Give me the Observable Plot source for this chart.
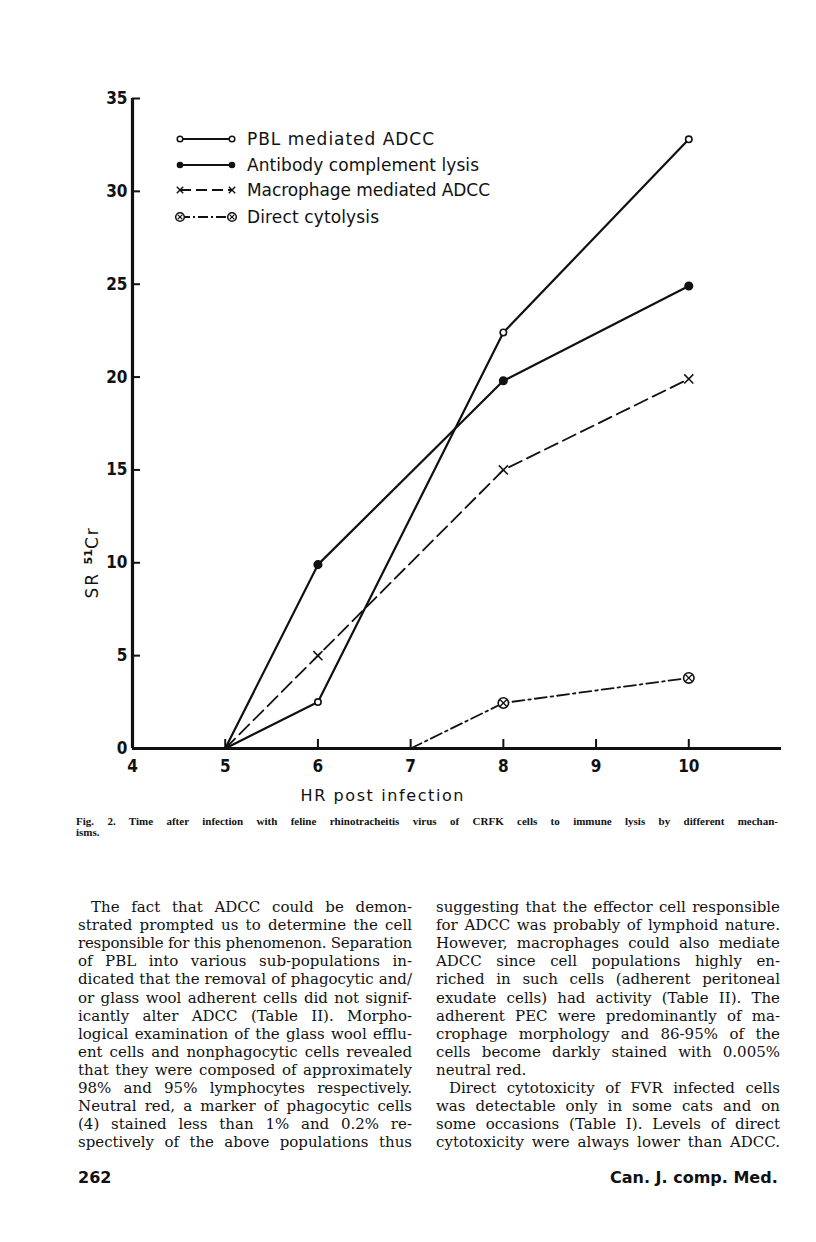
<!DOCTYPE html>
<html><head><meta charset="utf-8">
<script src="https://cdn.jsdelivr.net/npm/d3@7"></script>
<script src="https://cdn.jsdelivr.net/npm/@observablehq/plot@0.6"></script>
<style>
body{margin:0;background:#fff;}
#page{position:relative;width:816px;height:1242px;overflow:hidden;background:#fff;color:#111;}
#chart{position:absolute;left:0;top:0;}
#chart svg{overflow:visible;}
.abs{position:absolute;white-space:nowrap;}
.ylab{font-family:"DejaVu Sans",sans-serif;font-size:17px;letter-spacing:2px;transform:rotate(-90deg);transform-origin:center center;}
.xlab{font-family:"DejaVu Sans",sans-serif;font-size:16px;letter-spacing:1.6px;}
.cap{font-family:"Liberation Serif",serif;font-weight:bold;font-size:11px;line-height:10px;}
.body{font-family:"DejaVu Serif",serif;font-size:15px;}
.line{position:absolute;white-space:nowrap;text-align:justify;text-align-last:justify;}
.line.last{text-align-last:left;}
.foot{font-family:"DejaVu Sans",sans-serif;font-weight:bold;font-size:16px;}
</style></head><body><div id="page"><div id="chart"></div></div>
<script>
// ---- data ----
const xTickValues = [4, 5, 6, 7, 8, 9, 10];
const yTickValues = [0, 5, 10, 15, 20, 25, 30, 35];
const xDomain = [4, 11];
const yDomain = [0, 35];
const seriesNames = ["PBL mediated ADCC", "Antibody complement lysis", "Macrophage mediated ADCC", "Direct cytolysis"];
const pblHours = [5, 6, 8, 10];
const pblSR = [0, 2.5, 22.4, 32.8];
const abHours = [5, 6, 8, 10];
const abSR = [0, 9.9, 19.8, 24.9];
const macHours = [5, 6, 8, 10];
const macSR = [0, 5.0, 15.0, 19.9];
const dirHours = [7, 8, 10];
const dirSR = [0, 2.45, 3.8];
const xLabel = "HR post infection";
const caption1 = "Fig. 2. Time after infection with feline rhinotracheitis virus of CRFK cells to immune lysis by different mechan-";
const caption2 = "isms.";
const leftCol = [
 "The fact that ADCC could be demon-",
 "strated prompted us to determine the cell",
 "responsible for this phenomenon. Separation",
 "of PBL into various sub-populations in-",
 "dicated that the removal of phagocytic and/",
 "or glass wool adherent cells did not signif-",
 "icantly alter ADCC (Table II). Morpho-",
 "logical examination of the glass wool efflu-",
 "ent cells and nonphagocytic cells revealed",
 "that they were composed of approximately",
 "98% and 95% lymphocytes respectively.",
 "Neutral red, a marker of phagocytic cells",
 "(4) stained less than 1% and 0.2% re-",
 "spectively of the above populations thus"];
const rightCol = [
 "suggesting that the effector cell responsible",
 "for ADCC was probably of lymphoid nature.",
 "However, macrophages could also mediate",
 "ADCC since cell populations highly en-",
 "riched in such cells (adherent peritoneal",
 "exudate cells) had activity (Table II). The",
 "adherent PEC were predominantly of ma-",
 "crophage morphology and 86-95% of the",
 "cells become darkly stained with 0.005%",
 "neutral red.",
 "Direct cytotoxicity of FVR infected cells",
 "was detectable only in some cats and on",
 "some occasions (Table I). Levels of direct",
 "cytotoxicity were always lower than ADCC."];
const pageNo = "262";
const journal = "Can. J. comp. Med.";

// ---- build ----
const toRows = (xs, ys) => xs.map((x, i) => ({x, y: ys[i]}));
const pbl = toRows(pblHours, pblSR), ab = toRows(abHours, abSR), mac = toRows(macHours, macSR), dir = toRows(dirHours, dirSR);
const pos = d => d.y > 0;
const ink = "#111";

const W = 816, H = 810;
const mL = 132, mR = 35, mT = 98, mB = H - 748;
const frameW = W - mL - mR, frameH = H - mT - mB;
const tickFont = "'DejaVu Sans Condensed','Liberation Sans Narrow',sans-serif";
const chart = Plot.plot({
  width: W, height: H,
  marginLeft: mL, marginRight: mR, marginTop: mT, marginBottom: mB,
  x: {domain: xDomain},
  y: {domain: yDomain},
  style: {background: "transparent", color: ink},
  marks: [
    Plot.axisY({ticks: yTickValues, tickFormat: d => String(d), tickSize: 0, tickPadding: 5, label: null, fontSize: 17, fontWeight: "bold", fontFamily: tickFont}),
    Plot.axisX({ticks: xTickValues, tickFormat: d => String(d), tickSize: 0, tickPadding: 11, label: null, fontSize: 17, fontWeight: "bold", fontFamily: tickFont}),
    Plot.tickY(yTickValues.slice(1), {y: d => d, insetRight: frameW - 8, stroke: ink, strokeWidth: 2}),
    Plot.tickX(xTickValues.slice(1), {x: d => d, insetTop: frameH - 9, stroke: ink, strokeWidth: 2}),
    Plot.ruleX([xDomain[0]], {y1: yDomain[0], y2: yDomain[1], stroke: ink, strokeWidth: 3.2}),
    Plot.ruleY([yDomain[0]], {x1: xDomain[0], x2: xDomain[1], stroke: ink, strokeWidth: 3.2}),
    Plot.line(pbl, {x: "x", y: "y", stroke: ink, strokeWidth: 2.2}),
    Plot.line(ab, {x: "x", y: "y", stroke: ink, strokeWidth: 2.2}),
    Plot.line(mac, {x: "x", y: "y", stroke: ink, strokeWidth: 1.8, strokeDasharray: "14,6"}),
    Plot.line(dir, {x: "x", y: "y", stroke: ink, strokeWidth: 1.8, strokeDasharray: "12,4,2.5,4"}),
    Plot.dot(pbl.filter(pos), {x: "x", y: "y", r: 3.2, fill: "white", stroke: ink, strokeWidth: 1.6}),
    Plot.dot(ab.filter(pos), {x: "x", y: "y", r: 3.8, fill: ink, stroke: ink}),
    Plot.dot(mac.filter(pos), {x: "x", y: "y", r: 4.2, symbol: "times", stroke: ink, strokeWidth: 1.5}),
    Plot.dot(dir.filter(pos), {x: "x", y: "y", r: 5.2, fill: "white", stroke: ink, strokeWidth: 1.6}),
    Plot.dot(dir.filter(pos), {x: "x", y: "y", r: 3.0, symbol: "times", stroke: ink, strokeWidth: 1.3})
  ]
});
document.getElementById("chart").appendChild(chart);

const page = document.getElementById("page");
function addDiv(cls, text, style) {
  const d = document.createElement("div");
  d.className = "abs " + cls;
  d.textContent = text;
  Object.assign(d.style, style);
  page.appendChild(d);
  return d;
}

// legend (SVG overlay)
const ns = "http://www.w3.org/2000/svg";
const leg = document.createElementNS(ns, "svg");
leg.setAttribute("width", W); leg.setAttribute("height", 260);
leg.style.position = "absolute"; leg.style.left = "0"; leg.style.top = "0";
page.appendChild(leg);
const legRows = [139, 165, 190, 217];
const legEnds = [434, 479, 490, 379];
const legDash = [null, null, "11,5", "10,3,2,3"];
function el(tag, attrs, parent) { const e = document.createElementNS(ns, tag); for (const k in attrs) e.setAttribute(k, attrs[k]); (parent || leg).appendChild(e); return e; }
seriesNames.forEach((name, i) => {
  const y = legRows[i], x0 = 180, x1 = 232;
  const line = el("line", {x1: x0, x2: x1, y1: y, y2: y, stroke: ink, "stroke-width": 1.8});
  if (legDash[i]) line.setAttribute("stroke-dasharray", legDash[i]);
  [x0, x1].forEach(cx => {
    if (i === 0) el("circle", {cx, cy: y, r: 2.8, fill: "white", stroke: ink, "stroke-width": 1.5});
    if (i === 1) el("circle", {cx, cy: y, r: 3.3, fill: ink});
    if (i === 2) { const s = 3.2; el("path", {d: `M${cx-s},${y-s}L${cx+s},${y+s}M${cx-s},${y+s}L${cx+s},${y-s}`, stroke: ink, "stroke-width": 1.4}); }
    if (i === 3) { el("circle", {cx, cy: y, r: 4.3, fill: "white", stroke: ink, "stroke-width": 1.5}); const s = 2.4; el("path", {d: `M${cx-s},${y-s}L${cx+s},${y+s}M${cx-s},${y+s}L${cx+s},${y-s}`, stroke: ink, "stroke-width": 1.2}); }
  });
  const t = el("text", {x: 247, y: y + 6, "font-family": "DejaVu Sans, sans-serif", "font-size": 17, fill: ink, textLength: legEnds[i] - 247, lengthAdjust: "spacing"});
  t.textContent = name;
});

// y-axis title: SR 51Cr (rotated)
const yl = document.createElement("div");
yl.className = "abs ylab";
yl.innerHTML = 'SR <sup style="font-size:11px;font-weight:bold;letter-spacing:0">51</sup>Cr';
page.appendChild(yl);
const ylw = yl.offsetWidth, ylh = yl.offsetHeight;
yl.style.left = (92 - ylw / 2) + "px";
yl.style.top = (562 - ylh / 2) + "px";

// x-axis title
const xl = addDiv("xlab", xLabel, {});
xl.style.left = (383 - xl.offsetWidth / 2) + "px";
xl.style.top = (795 - xl.offsetHeight / 2) + "px";

// justified text lines
function justLine(cls, text, left, width, yc, last) {
  const d = addDiv(cls + " line" + (last ? " last" : ""), text, {left: left + "px", width: width + "px"});
  const s = document.createElement("span"); s.textContent = text; s.className = cls; s.style.whiteSpace = "nowrap"; s.style.position = "absolute"; s.style.visibility = "hidden";
  page.appendChild(s); const nw = s.getBoundingClientRect().width; page.removeChild(s);
  if (nw > width && !last) d.style.letterSpacing = ((width - nw) / text.length) + "px";
  d.style.top = (yc - d.offsetHeight / 2) + "px";
  return d;
}
justLine("cap", caption1, 76, 702, 821, false);
justLine("cap", caption2, 76, 702, 832, true);

// body columns
const y0 = 907, dy = 18.1;
leftCol.forEach((t, i) => {
  const ind = i === 0 ? 13 : 0;
  justLine("body", t, 78 + ind, 334 - ind, y0 + i * dy, false);
});
rightCol.forEach((t, i) => {
  const ind = i === 10 ? 13 : 0;
  justLine("body", t, 436 + ind, 344 - ind, y0 + i * dy, i === 9);
});

// footer
const pn = addDiv("foot", pageNo, {left: "78px"});
pn.style.top = (1177 - pn.offsetHeight / 2) + "px";
const jn = addDiv("foot", journal, {});
jn.style.left = (778 - jn.offsetWidth) + "px";
jn.style.top = (1177 - jn.offsetHeight / 2) + "px";
</script></body></html>
